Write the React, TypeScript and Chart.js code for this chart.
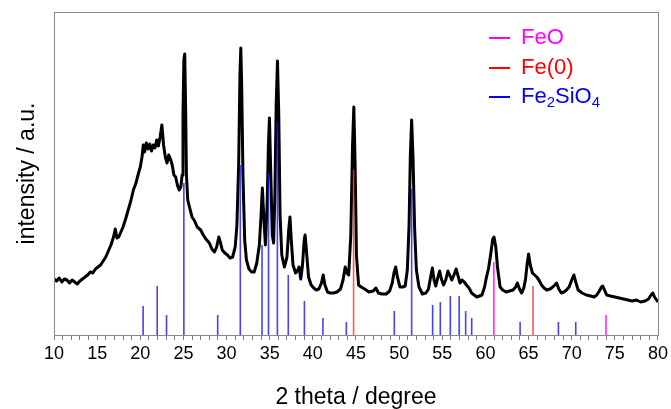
import React, { useEffect, useRef } from "react";
import { Chart, registerables } from "chart.js";

Chart.register(...registerables);

// 2-theta (degree) positions of the measured pattern
const thetaValues: number[] = [
  10.0, 10.3, 10.6, 10.9, 11.2, 11.5, 11.8, 12.1, 12.4, 12.7, 13.0, 13.3, 13.6, 13.9, 14.2, 14.5, 14.8, 15.1, 15.4, 15.7,
  16.0, 16.3, 16.6, 16.9, 17.1, 17.3, 17.5, 17.8, 18.0, 18.3, 18.6, 18.9, 19.2, 19.5, 19.8, 20.0, 20.2, 20.35, 20.5, 20.7,
  20.9, 21.1, 21.3, 21.5, 21.7, 21.9, 22.1, 22.3, 22.5, 22.7, 22.9, 23.1, 23.3, 23.5, 23.7, 23.9, 24.1, 24.3, 24.5, 24.7,
  24.85, 24.95, 25.05, 25.15, 25.25, 25.35, 25.5, 25.7, 26.0, 26.3, 26.6, 27.0, 27.3, 27.6, 28.0, 28.3, 28.6, 28.85, 29.1, 29.3,
  29.5, 29.8, 30.1, 30.4, 30.7, 31.0, 31.2, 31.4, 31.55, 31.65, 31.75, 31.9, 32.1, 32.3, 32.6, 32.9, 33.2, 33.5, 33.8, 34.0,
  34.15, 34.3, 34.5, 34.7, 34.85, 34.97, 35.1, 35.3, 35.45, 35.6, 35.75, 35.9, 36.05, 36.2, 36.4, 36.7, 37.0, 37.2, 37.35, 37.5,
  37.7, 38.0, 38.2, 38.4, 38.6, 38.8, 39.0, 39.1, 39.25, 39.5, 39.8, 40.1, 40.4, 40.7, 41.0, 41.2, 41.4, 41.7, 42.0, 42.4,
  42.8, 43.2, 43.5, 43.75, 43.95, 44.15, 44.4, 44.6, 44.75, 44.9, 45.05, 45.3, 45.6, 46.0, 46.5, 47.0, 47.3, 47.6, 48.0, 48.5,
  48.9, 49.2, 49.4, 49.6, 49.8, 50.1, 50.4, 50.7, 50.95, 51.15, 51.3, 51.45, 51.6, 51.8, 52.0, 52.3, 52.7, 53.1, 53.4, 53.65,
  53.85, 54.05, 54.25, 54.5, 54.7, 54.9, 55.15, 55.4, 55.65, 55.85, 56.1, 56.35, 56.6, 56.8, 57.05, 57.3, 57.55, 57.8, 58.1, 58.4,
  58.7, 59.0, 59.3, 59.6, 59.9, 60.1, 60.35, 60.6, 60.85, 61.0, 61.2, 61.4, 61.7, 62.0, 62.4, 62.8, 63.2, 63.5, 63.7, 63.95,
  64.2, 64.45, 64.65, 64.85, 65.0, 65.2, 65.45, 65.7, 65.95, 66.2, 66.5, 66.8, 67.1, 67.5, 67.8, 68.05, 68.25, 68.5, 68.8, 69.1,
  69.4, 69.7, 70.0, 70.25, 70.5, 70.75, 71.2, 71.7, 72.2, 72.6, 72.9, 73.2, 73.45, 73.6, 73.8, 74.05, 74.5, 75.0, 75.5, 76.0,
  76.5, 77.0, 77.5, 78.0, 78.5, 78.9, 79.2, 79.4, 79.6, 80.0,
];

// intensity (a.u.) read at each position above
const intensityValues: number[] = [
  56, 54, 57, 53, 56, 55, 52, 55, 53, 51, 54, 56, 58, 60, 63, 62, 66, 68, 70, 74,
  78, 84, 90, 98, 106, 97, 98, 104, 108, 116, 125, 134, 145, 152, 162, 168, 178, 190, 183, 192,
  186, 191, 184, 190, 187, 195, 189, 198, 210, 190, 178, 172, 180, 176, 170, 160, 158, 150, 145, 148,
  160, 220, 275, 281, 230, 160, 135, 128, 118, 114, 108, 105, 100, 96, 92, 86, 83, 88, 98, 92,
  85, 82, 80, 77, 78, 88, 110, 170, 260, 287, 250, 160, 95, 75, 66, 63, 63, 72, 90, 120,
  147, 120, 90, 130, 190, 217, 170, 100, 92, 140, 230, 274, 220, 120, 80, 68, 78, 105, 118, 95,
  70, 62, 64, 68, 56, 70, 95, 100, 85, 58, 50, 47, 45, 46, 52, 60, 50, 43, 42, 42,
  43, 46, 55, 68, 62, 60, 100, 190, 228, 170, 80, 50, 48, 46, 43, 44, 47, 42, 41, 41,
  44, 52, 62, 68, 58, 48, 48, 49, 65, 110, 180, 215, 180, 105, 65, 48, 41, 42, 46, 58,
  67, 55, 49, 58, 64, 56, 50, 55, 64, 60, 55, 60, 66, 60, 52, 55, 53, 50, 47, 42,
  40, 38, 39, 40, 48, 57, 66, 80, 96, 98, 88, 68, 48, 45, 43, 44, 45, 48, 52, 46,
  42, 47, 56, 72, 81, 70, 62, 60, 58, 55, 50, 47, 45, 46, 48, 50, 52, 46, 42, 43,
  45, 48, 55, 60, 52, 45, 42, 40, 39, 38, 40, 44, 48, 49, 45, 40, 39, 38, 37, 36,
  35, 34, 35, 33, 34, 36, 40, 42, 38, 33,
];

// reference patterns: positions and stick heights
const fe2sio4Positions: number[] = [20.33, 21.96, 23.04, 25.05, 28.97, 31.59, 34.11, 34.86, 35.89, 37.15, 39.02, 41.17, 43.88, 49.44, 51.45, 53.88, 54.77, 55.93, 56.96, 57.71, 58.41, 64.02, 68.46, 70.47];
const fe2sio4Heights: number[] = [29, 49, 20, 152, 20, 170, 90, 162, 213, 60, 34, 17, 13, 24, 146, 30, 33, 39, 39, 24, 17, 13, 13, 13];
const fe0Positions: number[] = [44.72, 65.51];
const fe0Heights: number[] = [165, 49];
const feoPositions: number[] = [60.98, 73.97];
const feoHeights: number[] = [73, 20];

const xTickValues: number[] = [10, 15, 20, 25, 30, 35, 40, 45, 50, 55, 60, 65, 70, 75, 80];
const legendLabels: string[] = ["FeO", "Fe(0)", "Fe2SiO4"];
const legendColors: string[] = ["#ff00ff", "#ff0000", "#0000ff"];

const FONT = "'Liberation Sans', Arial, sans-serif";

function sticks(pos: number[], h: number[]) {
  const out: any[] = [];
  pos.forEach((p, i) => {
    out.push({ x: p, y: 0 });
    out.push({ x: p, y: h[i] });
    out.push({ x: p, y: null });
  });
  return out;
}

const framePlugin = {
  id: "frame",
  afterDraw(chart: any) {
    const { ctx, chartArea } = chart;
    ctx.save();
    ctx.strokeStyle = "#8a8a8a";
    ctx.lineWidth = 1;
    ctx.strokeRect(chartArea.left + 0.5, chartArea.top + 0.5, chartArea.right - chartArea.left, chartArea.bottom - chartArea.top);
    ctx.restore();
  },
};

const legendPlugin = {
  id: "customLegend",
  afterDraw(chart: any) {
    const ctx = chart.ctx;
    const rows = [38, 68, 97];
    ctx.save();
    legendLabels.forEach((label, i) => {
      const y = rows[i];
      ctx.strokeStyle = legendColors[i];
      ctx.lineWidth = 2;
      ctx.beginPath();
      ctx.moveTo(489, y);
      ctx.lineTo(510, y);
      ctx.stroke();
      ctx.fillStyle = legendColors[i];
      ctx.textBaseline = "middle";
      let x = 521;
      // render digits as subscripts
      const parts = label.match(/\d+|\D+/g) || [];
      const sub = label.indexOf("(") < 0;
      parts.forEach((part) => {
        const isSub = sub && /^\d+$/.test(part);
        ctx.font = `${isSub ? 15 : 22}px ${FONT}`;
        ctx.fillText(part, x, isSub ? y + 6 : y);
        x += ctx.measureText(part).width;
      });
    });
    ctx.restore();
  },
};

export default function App() {
  const ref = useRef<HTMLCanvasElement>(null);
  useEffect(() => {
    if (!ref.current) return;
    const curve = thetaValues.map((t, i) => ({ x: t, y: intensityValues[i] }));
    const chart = new Chart(ref.current, {
      type: "line",
      data: {
        datasets: [
          { label: "Fe2SiO4", data: sticks(fe2sio4Positions, fe2sio4Heights), borderColor: "rgba(20,20,255,0.8)", borderWidth: 1.6, pointRadius: 0, spanGaps: false, order: 1 },
          { label: "Fe(0)", data: sticks(fe0Positions, fe0Heights), borderColor: "rgba(255,30,30,0.75)", borderWidth: 1.6, pointRadius: 0, spanGaps: false, order: 1 },
          { label: "FeO", data: sticks(feoPositions, feoHeights), borderColor: "rgba(255,0,255,0.85)", borderWidth: 1.6, pointRadius: 0, spanGaps: false, order: 1 },
          { label: "pattern", data: curve, borderColor: "#000000", borderWidth: 3, borderJoinStyle: "round", pointRadius: 0, tension: 0, order: 2 },
        ],
      },
      options: {
        responsive: false,
        animation: false,
        layout: { padding: { top: 12, right: 13, left: 0, bottom: 0 } },
        plugins: { legend: { display: false }, tooltip: { enabled: false } },
        scales: {
          x: {
            type: "linear",
            min: 10,
            max: 80,
            afterFit: (s: any) => { s.height = 74; },
            afterBuildTicks: (s: any) => {
              const t: any[] = [];
              for (let v = 10; v <= 80; v += 1) t.push({ value: v });
              s.ticks = t;
            },
            ticks: {
              autoSkip: false,
              maxRotation: 0,
              color: "#000",
              font: { size: 18, family: FONT },
              padding: 3,
              callback: (v: any) => (xTickValues.includes(Number(v)) ? String(v) : ""),
            },
            grid: { drawOnChartArea: false, drawTicks: true, tickLength: 5, color: "#7a7a7a" },
            border: { display: true, color: "#8a8a8a" },
            title: { display: true, text: "2 theta / degree", color: "#000", font: { size: 23, family: FONT, lineHeight: 1 }, padding: { top: 0, bottom: 0 } },
          },
          y: {
            type: "linear",
            min: 0,
            max: 323,
            afterFit: (s: any) => { s.width = 54; },
            ticks: { display: false },
            grid: { display: false },
            border: { display: false },
            title: { display: true, text: "intensity / a.u.", color: "#000", font: { size: 23, family: FONT, lineHeight: 1 }, padding: { top: 16, bottom: 0 } },
          },
        },
      },
      plugins: [framePlugin, legendPlugin],
    });
    return () => chart.destroy();
  }, []);
  return (
    <div style={{ position: "absolute", left: 0, top: 0, width: 671, height: 409, background: "#fff" }}>
      <canvas ref={ref} width={671} height={409} style={{ display: "block" }} />
    </div>
  );
}
